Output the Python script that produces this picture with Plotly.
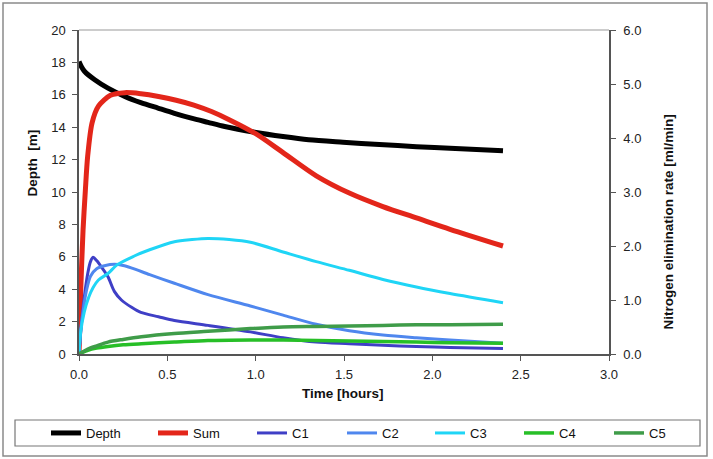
import plotly.graph_objects as go

# ---------------- data ----------------
depth_t = [0, 0.013, 0.032, 0.089, 0.164, 0.259, 0.35, 0.447, 0.54, 0.636, 0.73, 0.825,
           0.994, 1.155, 1.3, 1.494, 1.7, 1.91, 2.1, 2.4]
depth_v = [18.06, 17.75, 17.44, 16.93, 16.41, 15.9, 15.52, 15.18, 14.86, 14.56, 14.3, 14.04,
           13.69, 13.42, 13.22, 13.07, 12.93, 12.8, 12.7, 12.54]

sum_t = [0, 0.01, 0.023, 0.036, 0.049, 0.074, 0.11, 0.178, 0.26, 0.35, 0.45, 0.55, 0.65,
         0.75, 0.85, 1.0, 1.155, 1.343, 1.53, 1.72, 1.91, 2.1, 2.4]
sum_v = [0, 1.20, 2.30, 3.03, 3.66, 4.28, 4.59, 4.79, 4.84, 4.82, 4.77, 4.70, 4.61,
         4.49, 4.34, 4.08, 3.73, 3.30, 2.98, 2.73, 2.52, 2.31, 2.00]

c1_t = [0, 0.01, 0.03, 0.05, 0.065, 0.08, 0.1, 0.127, 0.164, 0.2, 0.24, 0.3, 0.35, 0.45,
        0.54, 0.73, 0.97, 1.155, 1.343, 1.53, 1.72, 1.91, 2.1, 2.4]
c1_v = [0, 0.42, 1.05, 1.50, 1.71, 1.79, 1.73, 1.61, 1.43, 1.16, 1.00, 0.86, 0.77, 0.69,
        0.62, 0.53, 0.41, 0.30, 0.22, 0.19, 0.16, 0.14, 0.12, 0.10]

c2_t = [0, 0.01, 0.025, 0.04, 0.065, 0.1, 0.15, 0.2, 0.25, 0.3, 0.4, 0.54, 0.73, 0.97,
        1.155, 1.343, 1.53, 1.72, 1.91, 2.1, 2.4]
c2_v = [0, 0.45, 0.84, 1.14, 1.44, 1.58, 1.64, 1.66, 1.64, 1.59, 1.47, 1.31, 1.10, 0.89,
        0.72, 0.55, 0.43, 0.35, 0.30, 0.26, 0.20]

c3_t = [0, 0.01, 0.03, 0.055, 0.08, 0.11, 0.164, 0.215, 0.31, 0.4, 0.54, 0.64, 0.73, 0.85,
        0.97, 1.155, 1.343, 1.53, 1.72, 1.91, 2.1, 2.4]
c3_v = [0, 0.42, 0.78, 1.05, 1.23, 1.37, 1.49, 1.65, 1.81, 1.93, 2.08, 2.12, 2.14, 2.12,
        2.07, 1.89, 1.71, 1.55, 1.38, 1.24, 1.12, 0.95]

c45_t = [0, 0.05, 0.1, 0.164, 0.25, 0.353, 0.54, 0.73, 0.97, 1.155, 1.343, 1.53, 1.72,
         1.91, 2.1, 2.4]
c4_v = [0, 0.07, 0.11, 0.14, 0.17, 0.19, 0.22, 0.25, 0.26, 0.26, 0.25, 0.24, 0.23, 0.22,
        0.21, 0.20]
c5_v = [0, 0.09, 0.15, 0.22, 0.27, 0.32, 0.38, 0.42, 0.47, 0.50, 0.51, 0.52, 0.53, 0.54,
        0.54, 0.55]

x_ticks = [0, 0.5, 1.0, 1.5, 2.0, 2.5, 3.0]
y_ticks = [0, 2, 4, 6, 8, 10, 12, 14, 16, 18, 20]
y2_ticks = [0, 1, 2, 3, 4, 5, 6]

# ---------------- geometry helpers (pixels -> paper) ----------------
FW, FH = 713, 459
L, R, T, B = 79, 609, 30, 354
W, H = R - L, B - T


def px(x):
    return (x - L) / W


def py(y):
    return (B - y) / H


FONT = "Liberation Sans, Arial, sans-serif"

series = [
    ("Depth", depth_t, depth_v, "#000000", 5, "y", 52),
    ("Sum", sum_t, sum_v, "#e3261a", 5, "y2", 159),
    ("C1", c1_t, c1_v, "#3f3fc6", 3, "y2", 258),
    ("C2", c2_t, c2_v, "#4f87ee", 3, "y2", 348),
    ("C3", c3_t, c3_v, "#1fd5f6", 3, "y2", 436),
    ("C4", c45_t, c4_v, "#27bf27", 3.5, "y2", 525),
    ("C5", c45_t, c5_v, "#3f9c49", 3.5, "y2", 615),
]

fig = go.Figure()
layout_legends = {}
for i, (name, t, v, col, w, ax, lx) in enumerate(series):
    lname = "legend" if i == 0 else f"legend{i+1}"
    fig.add_trace(go.Scatter(
        x=t, y=v, name=name, mode="lines", yaxis=ax,
        line=dict(color=col, width=w, shape="spline", smoothing=0.8),
        legend=lname,
    ))
    layout_legends[lname] = dict(
        xref="container", yref="container",
        x=(lx - 6) / FW, xanchor="left", y=(FH - 433) / FH, yanchor="middle",
        bgcolor="rgba(0,0,0,0)", borderwidth=0,
        font=dict(family=FONT, size=13, color="#111"),
        itemwidth=30,
    )

axis_col = "#555555"
fig.update_layout(
    width=FW, height=FH,
    margin=dict(l=L, r=FW - R, t=T, b=FH - B, autoexpand=False),
    paper_bgcolor="white", plot_bgcolor="white",
    showlegend=True,
    font=dict(family=FONT, size=13, color="#222"),
    xaxis=dict(range=[0, 3], tickvals=x_ticks, tickformat=".1f",
               showgrid=False, zeroline=False, showline=True, linecolor=axis_col,
               linewidth=1.5, ticks="outside", ticklen=5, tickcolor=axis_col,
               tickfont=dict(family=FONT, size=13, color="#222"),
               ticklabelstandoff=3, automargin=False),
    yaxis=dict(range=[0, 20], tickvals=y_ticks,
               showgrid=False, zeroline=False, showline=True, linecolor=axis_col,
               linewidth=1.5, ticks="outside", ticklen=5, tickcolor=axis_col,
               tickfont=dict(family=FONT, size=13, color="#222"),
               ticklabelstandoff=4, automargin=False),
    yaxis2=dict(range=[0, 6], tickvals=y2_ticks, tickformat=".1f",
                overlaying="y", side="right",
                showgrid=False, zeroline=False, showline=True, linecolor=axis_col,
                linewidth=1.5, ticks="outside", ticklen=5, tickcolor=axis_col,
                tickfont=dict(family=FONT, size=13, color="#222"),
                ticklabelstandoff=5, automargin=False),
    **layout_legends,
)

# plot area top edge, outer frame, legend box
fig.add_shape(type="line", xref="paper", yref="paper", x0=0, x1=1, y0=1, y1=1,
              line=dict(color="#999999", width=1.2))
fig.add_shape(type="rect", xref="paper", yref="paper",
              x0=px(3), x1=px(707), y0=py(456), y1=py(3),
              line=dict(color="#8a8a8a", width=1.5), layer="below")
fig.add_shape(type="rect", xref="paper", yref="paper",
              x0=px(15), x1=px(700), y0=py(446), y1=py(420),
              line=dict(color="#777777", width=1.2), layer="below")

# axis titles
title_font = dict(family=FONT, size=13.5, color="#111")
fig.add_annotation(text="<b>Depth  [m]</b>", x=px(32), y=py(163.5), xref="paper",
                   yref="paper", showarrow=False, textangle=-90,
                   xanchor="center", yanchor="middle", font=title_font)
fig.add_annotation(text="<b>Nitrogen elimination rate [ml/min]</b>", x=px(668),
                   y=py(222.5), xref="paper", yref="paper", showarrow=False,
                   textangle=-90, xanchor="center", yanchor="middle", font=title_font)
fig.add_annotation(text="<b>Time [hours]</b>", x=px(343), y=py(393), xref="paper",
                   yref="paper", showarrow=False, xanchor="center", yanchor="middle",
                   font=title_font)

fig.write_html(
    "out.html",
    config={"displayModeBar": False},
    post_script="document.body.style.margin='0px';document.body.style.overflow='hidden';",
)
